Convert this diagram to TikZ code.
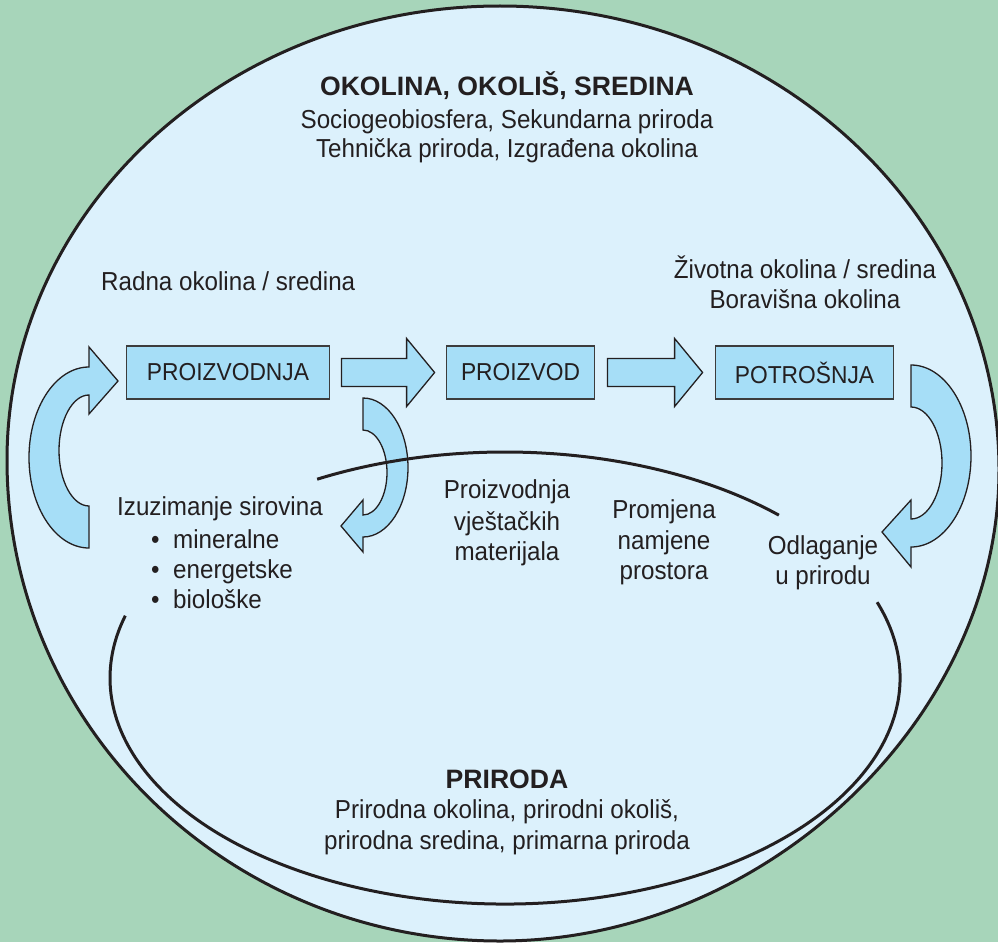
\documentclass[tikz,border=0pt]{standalone}
\usepackage{fontspec}
\setmainfont{Liberation Sans}[FakeStretch=0.93]
\newfontfamily\headfont{Liberation Sans}
\usetikzlibrary{calc}

\definecolor{meadow}{HTML}{A7D5BA}
\definecolor{sky}{HTML}{DCF1FC}
\definecolor{flow}{HTML}{A6DEF7}
\definecolor{ink}{HTML}{231F20}
\definecolor{frame}{HTML}{3C3C3C}

% straight block arrow from coordinate #1 (tail) to coordinate #2 (tip)
\newcommand\flatarrow[2]{%
  \draw[flowarrow] ($(#1)+(0,-14)$) -- ($(#2)+(-28,-14)$) -- ($(#2)+(-28,-34)$)
    -- (#2) -- ($(#2)+(-28,34)$) -- ($(#2)+(-28,14)$) -- ($(#1)+(0,14)$) -- cycle;}

\begin{document}
\begin{tikzpicture}[x=1pt,y=-1pt,
  label/.style={anchor=base, inner sep=0pt, text=ink, font=\fontsize{26}{30}\selectfont},
  head/.style={anchor=base, inner sep=0pt, text=ink, font=\headfont\bfseries\fontsize{26.6}{30}\selectfont},
  stage/.style={draw=frame, line width=1.8pt, fill=flow, minimum height=53pt, inner sep=0pt,
                text=ink, font=\fontsize{24.5}{28}\selectfont},
  flowarrow/.style={draw=ink, line width=1.3pt, fill=flow, line join=miter},
  rim/.style={draw=ink, line width=3pt},
]
% page and background
\useasboundingbox (0,0) rectangle (998,942);
\fill[meadow] (0,0) rectangle (998,942);

% the built environment
\filldraw[rim, fill=sky] (999,470) .. controls (999,720) and (764,941) .. (500,941)
  .. controls (228,941) and (7,726) .. (7,460)
  .. controls (7,209) and (228,6) .. (500,6)
  .. controls (775,6) and (999,214) .. (999,470) -- cycle;

% stages
\node[stage, minimum width=203pt] (prod) at (228,372.5) {PROIZVODNJA};
\node[stage, minimum width=148pt] (item) at (520.5,372.5) {PROIZVOD};
\node[stage, minimum width=178pt] (use)  at (804.5,372.5) {POTROŠNJA};

% straight flows between stages
\coordinate (a1s) at ($(prod.east)+(11,0)$);
\coordinate (a1e) at ($(item.west)+(-11,0)$);
\coordinate (a2s) at ($(item.east)+(12,0)$);
\coordinate (a2e) at ($(use.west)+(-12,0)$);
\flatarrow{a1s}{a1e}
\flatarrow{a2s}{a2e}

% raw material loop back into production
\draw[flowarrow] (89,506) -- (89,548) .. controls (56,548) and (29,507.5) .. (29,457.5)
  .. controls (29,407.5) and (56,367) .. (89,367) -- (89,347) -- (118,381) -- (89,414)
  -- (89,395) .. controls (72.5,395) and (59,420) .. (59,450.5)
  .. controls (59,481) and (72.5,506) .. (89,506) -- cycle;

% production down to extraction
\draw[flowarrow] (363,398) .. controls (387.8,398) and (408,429.1) .. (408,467.5)
  .. controls (408,505.9) and (387.8,537) .. (363,537) -- (363,552) -- (341,526) -- (363,500)
  -- (363,515) .. controls (376.2,515) and (387,496) .. (387,472.5)
  .. controls (387,449) and (376.2,430) .. (363,430) -- cycle;

% consumption down to disposal
\draw[flowarrow] (911,365) .. controls (944,365) and (971,405.8) .. (971,456)
  .. controls (971,506.2) and (944,547) .. (911,547) -- (911,567) -- (882,532) -- (911,500)
  -- (911,519) .. controls (928,519) and (942,494) .. (942,463)
  .. controls (942,432) and (928,407) .. (911,407) -- cycle;

% nature: an ellipse left open where the labels sit
\draw[rim, shift={(505,678)}] (-118.4:395 and 226)
  arc[start angle=-118.4, end angle=-46.1, x radius=395, y radius=226];
\draw[rim, shift={(505,678)}] (-19.6:395 and 226)
  arc[start angle=-19.6, end angle=196, x radius=395, y radius=226];

% headings
\node[head]  (title) at (507,95)  {OKOLINA, OKOLIŠ, SREDINA};
\node[label] (sub1)  at (507,128) {Sociogeobiosfera, Sekundarna priroda};
\node[label] (sub2)  at (507,157) {Tehnička priroda, Izgrađena okolina};

\node[label, anchor=base west] (work) at (101,290) {Radna okolina / sredina};
\node[label] (life1) at (805,278) {Životna okolina / sredina};
\node[label] (life2) at (805,308) {Boravišna okolina};

% activities touching nature
\node[label, anchor=base west] (raw) at (117,515) {Izuzimanje sirovina};
\node[label, anchor=base west] (raw1) at (151,548) {\makebox[22pt][l]{•}mineralne};
\node[label, anchor=base west] (raw2) at (151,578) {\makebox[22pt][l]{•}energetske};
\node[label, anchor=base west] (raw3) at (151,608) {\makebox[22pt][l]{•}biološke};

\node[label] (mat1) at (507,498) {Proizvodnja};
\node[label] (mat2) at (507,530) {vještačkih};
\node[label] (mat3) at (507,560) {materijala};

\node[label] (land1) at (664,518) {Promjena};
\node[label] (land2) at (664,549) {namjene};
\node[label] (land3) at (664,579) {prostora};

\node[label] (dump1) at (823,554) {Odlaganje};
\node[label] (dump2) at (823,584) {u prirodu};

\node[head]  (nat)  at (507,788) {PRIRODA};
\node[label] (nat1) at (507,818) {Prirodna okolina, prirodni okoliš,};
\node[label] (nat2) at (507,849) {prirodna sredina, primarna priroda};
\end{tikzpicture}
\end{document}
